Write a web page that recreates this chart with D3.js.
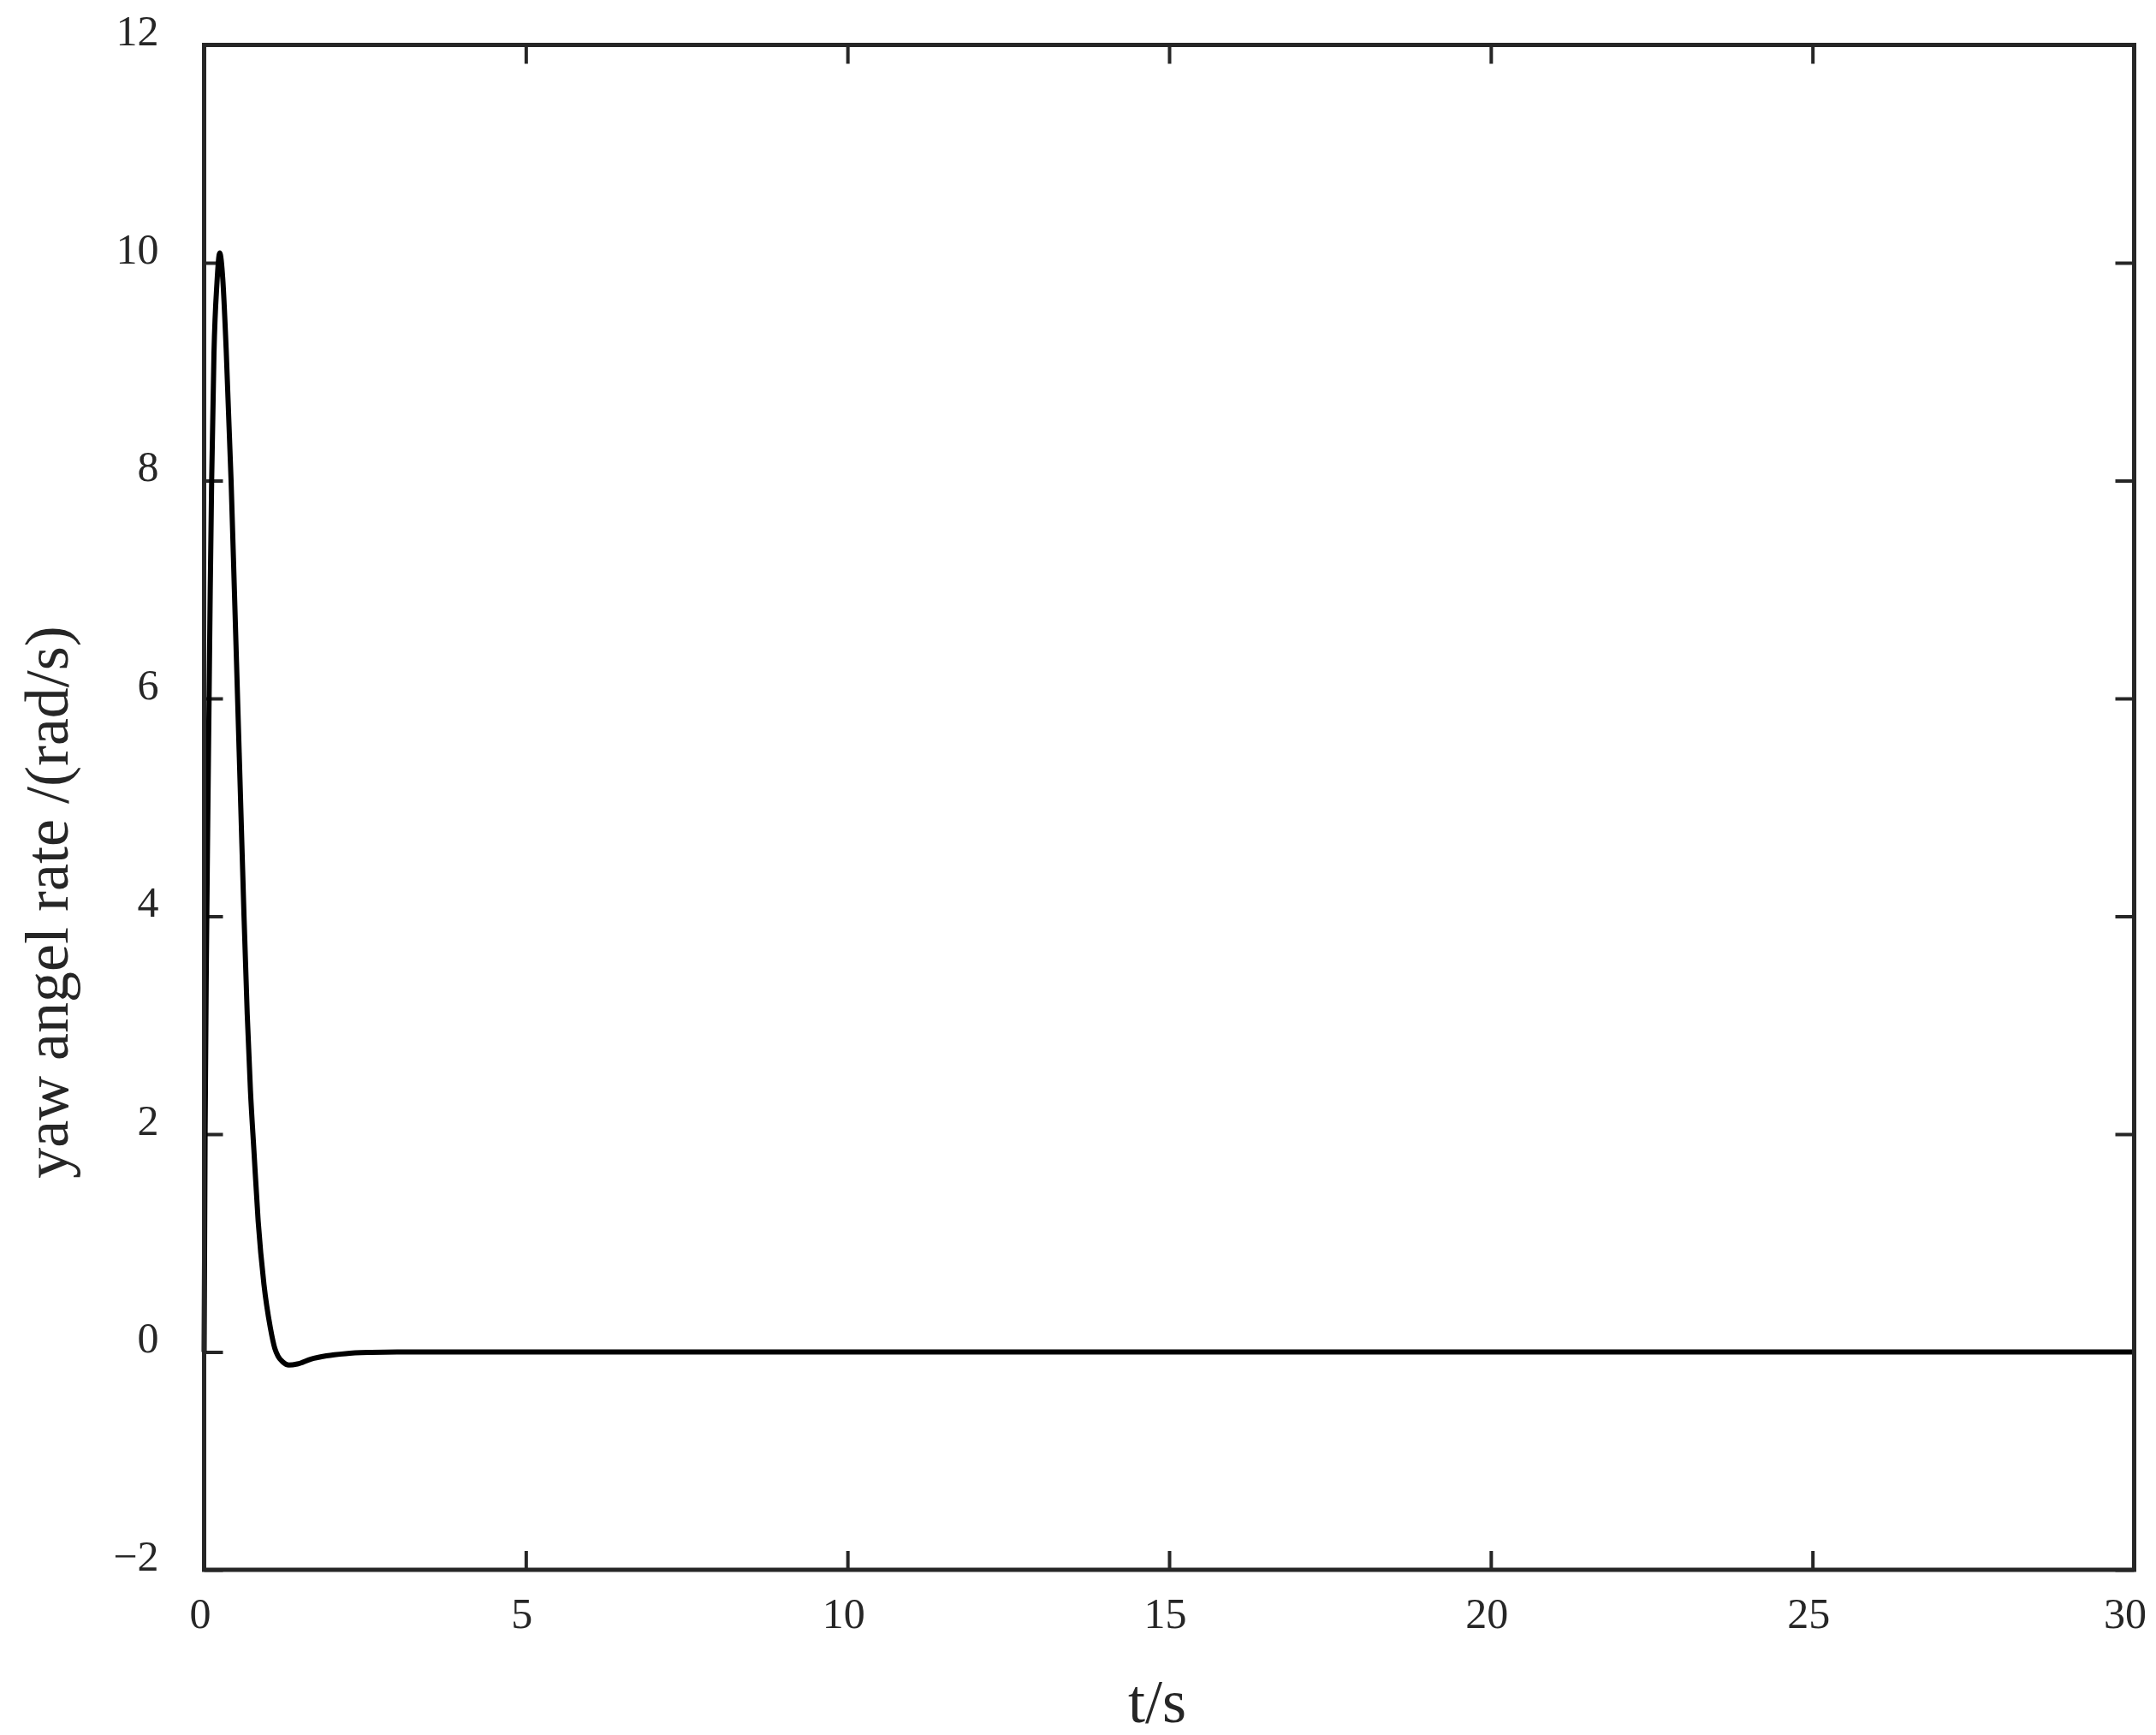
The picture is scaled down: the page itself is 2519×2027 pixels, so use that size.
<!DOCTYPE html>
<html>
<head>
<meta charset="utf-8">
<script src="https://cdn.jsdelivr.net/npm/d3@7"></script>
<style>
  body { margin: 0; background: #fff; }
  svg { display: block; }
</style>
</head>
<body>
<div id="chart"></div>
<script>
// Time samples (s) and yaw angle rate (rad/s)
const timeValues = [0, 0.015, 0.035, 0.055, 0.077, 0.095, 0.117, 0.153, 0.2, 0.242,
    0.29, 0.343, 0.419, 0.47, 0.52, 0.57, 0.62, 0.67, 0.72, 0.774, 0.84, 0.93,
    1.03, 1.1, 1.15, 1.22, 1.317, 1.45, 1.66, 1.9, 2.2, 2.6, 3.0, 30];
const rateValues = [0, 2.0, 3.6, 4.8, 6.0, 7.0, 8.0, 9.17, 9.82, 10.09,
    9.85, 9.2, 8.0, 7.0, 6.0, 5.0, 4.0, 3.1, 2.4, 1.85, 1.2, 0.62,
    0.22, 0.03, -0.04, -0.09, -0.12, -0.11, -0.065, -0.035, -0.015, -0.004, 0, 0];

const xTicks = [0, 5, 10, 15, 20, 25, 30];
const yTicks = [-2, 0, 2, 4, 6, 8, 10, 12];

const svgWidth = 2519;
const svgHeight = 2027;
const margin = { top: 52.5, right: 25.5, bottom: 193, left: 238.5 };
const width = svgWidth - margin.left - margin.right;
const height = svgHeight - margin.top - margin.bottom;

const svg = d3.select("#chart")
    .append("svg")
    .attr("width", svgWidth)
    .attr("height", svgHeight);

const chartGroup = svg.append("g")
    .attr("transform", `translate(${margin.left},${margin.top})`);

// Scales
const xScale = d3.scaleLinear().domain([0, 30]).range([0, width]);
const yScale = d3.scaleLinear().domain([-2, 12]).range([height, 0]);

const font = "'Liberation Serif', 'Times New Roman', serif";
const ink = "#262626";

// Axes with inward ticks on all four sides
function styleAxis(g) {
    g.select(".domain").remove();
    g.selectAll(".tick line").attr("stroke", ink).attr("stroke-width", 4);
    g.selectAll("text")
        .attr("fill", ink)
        .attr("font-family", font)
        .attr("font-size", "50px");
}

chartGroup.append("g")
    .attr("transform", `translate(0,${height})`)
    .call(d3.axisBottom(xScale).tickValues(xTicks).tickSize(-22).tickPadding(0))
    .call(styleAxis)
    .call(g => g.selectAll("text").attr("y", 68).attr("dy", 0)
        .attr("dx", d => d === 30 ? -11 : -5));

chartGroup.append("g")
    .call(d3.axisLeft(yScale).tickValues(yTicks).tickSize(-22).tickPadding(53))
    .call(styleAxis)
    .call(g => g.selectAll("text").attr("dy", 0));

chartGroup.append("g")
    .call(d3.axisTop(xScale).tickValues(xTicks).tickSize(-22).tickFormat(""))
    .call(styleAxis);

chartGroup.append("g")
    .attr("transform", `translate(${width},0)`)
    .call(d3.axisRight(yScale).tickValues(yTicks).tickSize(-22).tickFormat(""))
    .call(styleAxis);

// Curve
const line = d3.line()
    .x((d, i) => xScale(timeValues[i]))
    .y(d => yScale(d))
    .curve(d3.curveMonotoneX);

chartGroup.append("path")
    .datum(rateValues)
    .attr("fill", "none")
    .attr("stroke", "#000")
    .attr("stroke-width", 6)
    .attr("stroke-linejoin", "round")
    .attr("d", line);

// Frame
chartGroup.append("rect")
    .attr("x", 0)
    .attr("y", 0)
    .attr("width", width)
    .attr("height", height)
    .attr("fill", "none")
    .attr("stroke", ink)
    .attr("stroke-width", 5);

// X-axis label
svg.append("text")
    .attr("x", 1352)
    .attr("y", 2012)
    .attr("text-anchor", "middle")
    .attr("font-family", font)
    .attr("font-size", "72px")
    .attr("fill", ink)
    .text("t/s");

// Y-axis label
svg.append("text")
    .attr("transform", "rotate(-90)")
    .attr("x", -1054)
    .attr("y", 79)
    .attr("text-anchor", "middle")
    .attr("font-family", font)
    .attr("font-size", "72px")
    .attr("fill", ink)
    .text("yaw angel rate /(rad/s)");
</script>
</body>
</html>
